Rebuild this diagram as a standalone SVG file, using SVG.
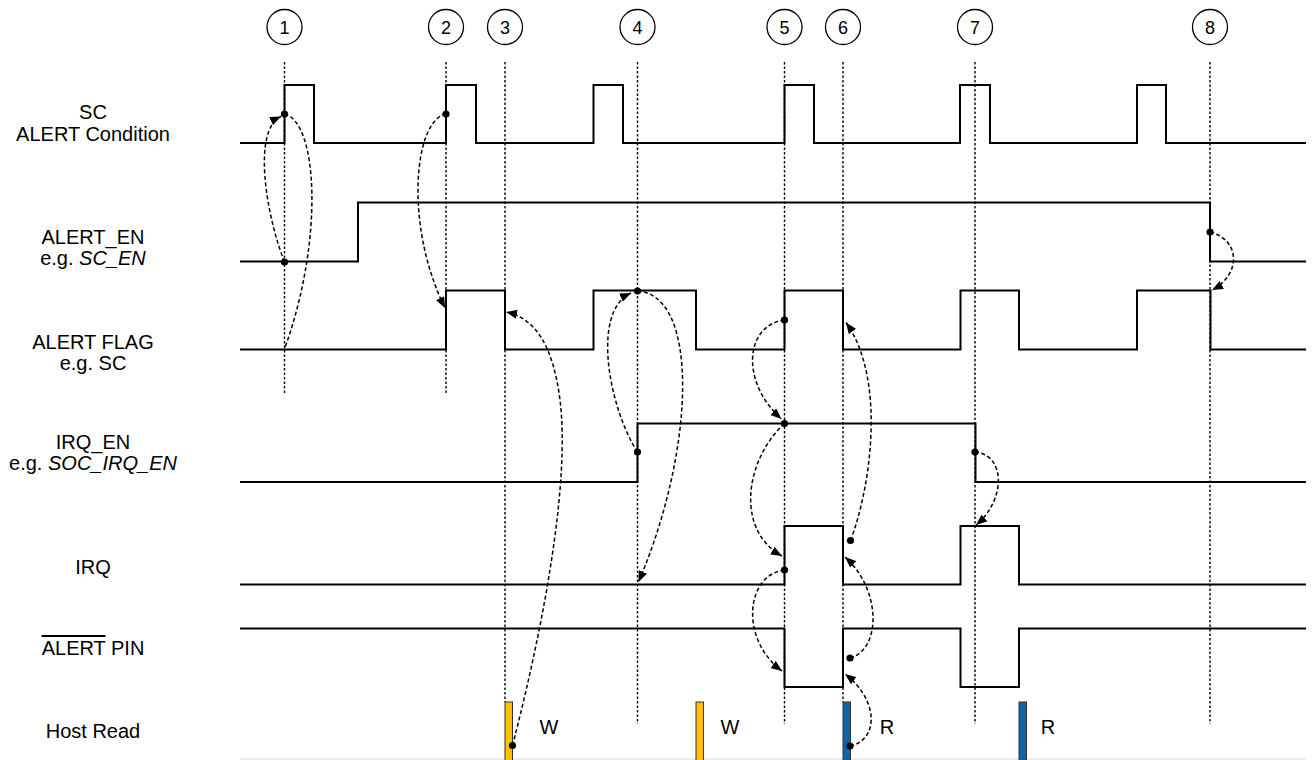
<svg xmlns="http://www.w3.org/2000/svg" width="1313" height="760" viewBox="0 0 1313 760">
<style>
.lbl{font-family:"Liberation Sans",Arial,sans-serif;font-size:20px;fill:#000;text-anchor:middle}
.num{font-family:"Liberation Sans",Arial,sans-serif;font-size:18px;fill:#000;text-anchor:middle}
.sig{fill:none;stroke:#000;stroke-width:2;stroke-linejoin:miter}
.vl{fill:none;stroke:#000;stroke-width:1.4;stroke-dasharray:2.5 2}
.cn{fill:none;stroke:#000;stroke-width:1.5;stroke-dasharray:4 2.5}
.cna{fill:none;stroke:#000;stroke-width:1.5;stroke-dasharray:4 2.5;marker-end:url(#ah)}
.dot{fill:#000}
.mk{fill:#fff;stroke:#000;stroke-width:1.3}
.w{fill:#FFC000;stroke:#333;stroke-width:1}
.r{fill:#0E63B0;stroke:#333;stroke-width:1}
</style>
<defs>
<marker id="ah" markerUnits="userSpaceOnUse" markerWidth="11" markerHeight="9" refX="11" refY="4.5" orient="auto">
<path d="M0,0 L11,4.5 L0,9 z" fill="#000"/>
</marker>
</defs>
<rect width="1313" height="760" fill="#fff"/>

<g id="time-markers">
<g id="t1"><circle class="mk" cx="284.5" cy="27" r="17.5"/><text class="num" x="284.5" y="33.5">1</text><line class="vl" x1="284.5" y1="62" x2="284.5" y2="395"/></g>
<g id="t2"><circle class="mk" cx="446" cy="27" r="17.5"/><text class="num" x="446" y="33.5">2</text><line class="vl" x1="446" y1="62" x2="446" y2="395"/></g>
<g id="t3"><circle class="mk" cx="505" cy="27" r="17.5"/><text class="num" x="505" y="33.5">3</text><line class="vl" x1="505" y1="62" x2="505" y2="702"/></g>
<g id="t4"><circle class="mk" cx="637.5" cy="27" r="17.5"/><text class="num" x="637.5" y="33.5">4</text><line class="vl" x1="637.5" y1="62" x2="637.5" y2="724"/></g>
<g id="t5"><circle class="mk" cx="784.5" cy="27" r="17.5"/><text class="num" x="784.5" y="33.5">5</text><line class="vl" x1="784.5" y1="62" x2="784.5" y2="724"/></g>
<g id="t6"><circle class="mk" cx="843" cy="27" r="17.5"/><text class="num" x="843" y="33.5">6</text><line class="vl" x1="843" y1="62" x2="843" y2="702"/></g>
<g id="t7"><circle class="mk" cx="975" cy="27" r="17.5"/><text class="num" x="975" y="33.5">7</text><line class="vl" x1="975" y1="62" x2="975" y2="724"/></g>
<g id="t8"><circle class="mk" cx="1210" cy="27" r="17.5"/><text class="num" x="1210" y="33.5">8</text><line class="vl" x1="1210" y1="62" x2="1210" y2="724"/></g>
</g>

<g id="sc-alert-condition">
<text class="lbl" x="93" y="119">SC</text>
<text class="lbl" x="93" y="141">ALERT Condition</text>
<path class="sig" d="M240,143 H284.5 V85 H314 V143 H446 V85 H476 V143 H593.5 V85 H623 V143 H784.5 V85 H814 V143 H960 V85 H990 V143 H1137 V85 H1166 V143 H1306"/>
</g>

<g id="alert-en">
<text class="lbl" x="93" y="244">ALERT_EN</text>
<text class="lbl" x="93" y="265">e.g. <tspan font-style="italic">SC_EN</tspan></text>
<path class="sig" d="M240,261.5 H358 V202.5 H1210 V261.5 H1306"/>
</g>

<g id="alert-flag">
<text class="lbl" x="93" y="349">ALERT FLAG</text>
<text class="lbl" x="93" y="370">e.g. SC</text>
<path class="sig" d="M240,349.5 H446 V290.5 H505 V349.5 H593.5 V290.5 H696 V349.5 H784.5 V290.5 H843 V349.5 H960.5 V290.5 H1019 V349.5 H1137 V290.5 H1210.5 V349.5 H1306"/>
</g>

<g id="irq-en">
<text class="lbl" x="93" y="449">IRQ_EN</text>
<text class="lbl" x="93" y="470">e.g. <tspan font-style="italic">SOC_IRQ_EN</tspan></text>
<path class="sig" d="M240,482 H637.5 V423.5 H975.5 V482 H1306"/>
</g>

<g id="irq">
<text class="lbl" x="93" y="574">IRQ</text>
<path class="sig" d="M240,584.5 H784.5 V526 H843 V584.5 H960.5 V526 H1019 V584.5 H1306"/>
</g>

<g id="alert-pin">
<text class="lbl" x="93" y="655"><tspan style="text-decoration:overline">ALERT</tspan> PIN</text>
<path class="sig" d="M240,628.5 H784.5 V687 H843 V628.5 H960.5 V687 H1019 V628.5 H1306"/>
</g>

<g id="host-read">
<text class="lbl" x="93" y="738">Host Read</text>
<line x1="240" y1="759" x2="1306" y2="759" stroke="#d9d9d9" stroke-width="1"/>
<rect class="w" x="505" y="702" width="7.5" height="60"/>
<rect class="w" x="696" y="702" width="7.5" height="60"/>
<rect class="r" x="843" y="702" width="7.5" height="60"/>
<rect class="r" x="1019" y="702" width="7.5" height="60"/>
<text class="lbl" x="549" y="734">W</text>
<text class="lbl" x="730" y="734">W</text>
<text class="lbl" x="887" y="734">R</text>
<text class="lbl" x="1048" y="734">R</text>
</g>

<g id="connectors">
<path class="cna" d="M284.5,262 C266,215 252,130 281,116.5"/>
<path class="cn" d="M284.5,114 C318,122 324,240 284.5,349"/>
<path class="cna" d="M446,114 C414,120 404,225 445,308"/>
<path class="cna" d="M512.5,745.5 C545,620 570,480 560,400 C553,345 535,318 506,312"/>
<path class="cna" d="M637.5,452 C610,410 590,312 631,293"/>
<path class="cna" d="M637.5,291 C700,295 695,450 638.5,582"/>
<path class="cna" d="M784.5,320 C745,325 740,382 781.5,419"/>
<path class="cna" d="M784.5,423.5 C745,460 735,530 782,556"/>
<path class="cna" d="M784.5,570 C745,575 740,640 782,671"/>
<path class="cna" d="M850.5,540.5 C870,490 887,380 846,322.5"/>
<path class="cna" d="M850,658 C881,650 882,590 845,557"/>
<path class="cna" d="M850,746 C879,740 879,700 845,674"/>
<path class="cna" d="M975,452 C1006,455 1006,500 976,525"/>
<path class="cna" d="M1210,232 C1241,240 1241,275 1212,290"/>
<circle class="dot" cx="284.5" cy="114" r="3.6"/>
<circle class="dot" cx="284.5" cy="262" r="3.6"/>
<circle class="dot" cx="446" cy="114" r="3.6"/>
<circle class="dot" cx="512.5" cy="745.5" r="3.6"/>
<circle class="dot" cx="637.5" cy="452" r="3.6"/>
<circle class="dot" cx="637.5" cy="291" r="3.6"/>
<circle class="dot" cx="784.5" cy="320" r="3.6"/>
<circle class="dot" cx="784.5" cy="423.5" r="3.6"/>
<circle class="dot" cx="784.5" cy="570" r="3.6"/>
<circle class="dot" cx="850.5" cy="540.5" r="3.6"/>
<circle class="dot" cx="850" cy="658" r="3.6"/>
<circle class="dot" cx="850" cy="746" r="3.6"/>
<circle class="dot" cx="975" cy="452" r="3.6"/>
<circle class="dot" cx="1210" cy="232" r="3.6"/>
</g>
</svg>
